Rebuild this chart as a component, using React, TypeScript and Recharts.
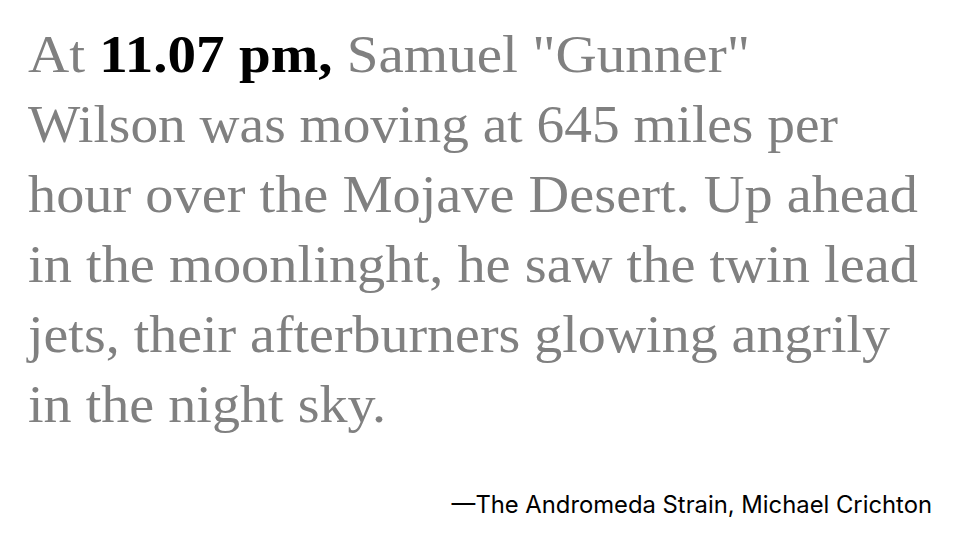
import React from 'react';
import {Surface} from 'recharts';

const lines = [
  'Wilson was moving at 645 miles per',
  'hour over the Mojave Desert. Up ahead',
  'in the moonlinght, he saw the twin lead',
  'jets, their afterburners glowing angrily',
  'in the night sky.',
];
const lineWidths = [810, 890, 890, 862, 358];
const attribution = '\u2014The Andromeda Strain, Michael Crichton';

const App = () => {
  const serif = '"Liberation Serif", "DejaVu Serif", serif';
  return (
    <div style={{position: 'absolute', left: 0, top: 0, width: 960, height: 540, background: '#fff'}}>
      <Surface width={960} height={540}>
        <text x={28} y={72} fontFamily={serif} fontSize={53} fill="#808080" textLength={722} lengthAdjust="spacingAndGlyphs">
          At <tspan fill="#000" fontWeight="bold">11.07 pm,</tspan> Samuel "Gunner"
        </text>
        {lines.map((l, i) => (
          <text key={i} x={28} y={142 + i * 70} fontFamily={serif} fontSize={53} fill="#808080"
            textLength={lineWidths[i]} lengthAdjust="spacingAndGlyphs">
            {l}
          </text>
        ))}
        <text x={932} y={513} textAnchor="end" fontFamily="Inter, sans-serif" fontSize={23.8} fill="#000">
          {attribution}
        </text>
      </Surface>
    </div>
  );
};

export default App;
